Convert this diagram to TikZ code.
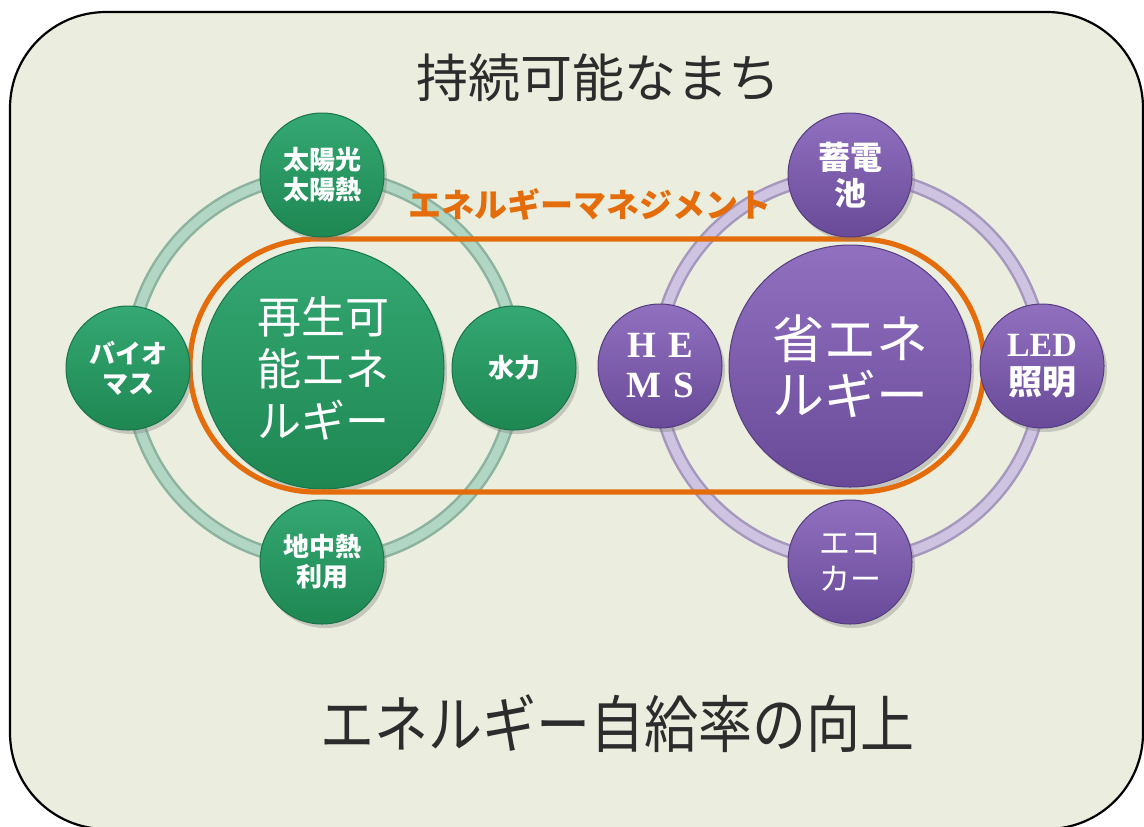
\documentclass[tikz,border=0pt]{standalone}
\usepackage{fontspec}
\newfontfamily\jp{Noto Sans CJK JP}
\setmainfont{Liberation Serif}
\usetikzlibrary{shadows}
\definecolor{bgfill}{HTML}{EBEEDE}
\definecolor{gtop}{HTML}{35A873}
\definecolor{gbot}{HTML}{1E8752}
\definecolor{gedge}{HTML}{17744A}
\definecolor{ptop}{HTML}{9170C0}
\definecolor{pbot}{HTML}{684A98}
\definecolor{pedge}{HTML}{553C80}
\definecolor{gring}{HTML}{B2D6C4}
\definecolor{gringd}{HTML}{8DB3A0}
\definecolor{pring}{HTML}{CEC3E0}
\definecolor{pringd}{HTML}{A597BE}
\definecolor{mgmt}{HTML}{E46C0A}
\definecolor{titlegray}{HTML}{2C2C2C}
\tikzset{
  frame/.style={draw=black, line width=1.1pt, fill=bgfill, rounded corners=48pt},
  gball/.style={circle, top color=gtop, bottom color=gbot, draw=gedge, line width=0.5pt,
    text=white, align=center, inner sep=0pt,
    drop shadow={opacity=0.35, shadow xshift=1.5pt, shadow yshift=-2pt}},
  pball/.style={circle, top color=ptop, bottom color=pbot, draw=pedge, line width=0.5pt,
    text=white, align=center, inner sep=0pt,
    drop shadow={opacity=0.35, shadow xshift=1.5pt, shadow yshift=-2pt}},
  bigc/.style={minimum size=121pt},
  smallc/.style={minimum size=62pt},
  gringout/.style={draw=gringd, line width=7pt},
  gringin/.style={draw=gring, line width=4.5pt},
  pringout/.style={draw=pringd, line width=7pt},
  pringin/.style={draw=pring, line width=4.5pt},
  mgmtbox/.style={draw=mgmt, line width=2.6pt, rounded corners=63pt},
}
\begin{document}
\begin{tikzpicture}[x=0.5pt,y=-0.5pt]
\useasboundingbox (0,0) rectangle (1144,826);
\fill[white] (0,0) rectangle (1144,826);
\draw[frame] (10,12) rectangle (1143,829);

% centres
\coordinate (L) at (323,368);
\coordinate (R) at (850,368);

% rings
\draw[gringout] (L) circle[radius=193];
\draw[gringin] (L) circle[radius=193];
\draw[pringout] (R) circle[radius=193];
\draw[pringin] (R) circle[radius=193];

% big circles
\node[gball, bigc, font=\jp\fontsize{22}{26}\selectfont] (renew) at (323,368) {再生可\\能エネ\\ルギー};
\node[pball, bigc, font=\jp\fontsize{26}{28}\selectfont] (save) at (850,366) {省エネ\\ルギー};

% management box
\draw[mgmtbox] (190,239) rectangle (984,492);
\node[text=mgmt, font=\jp\bfseries\fontsize{16.5}{18}\selectfont] (mgmtlabel) at (590,204) {エネルギーマネジメント};

% green satellites
\node[gball, smallc, font=\jp\bfseries\fontsize{13}{15}\selectfont] (solar) at (322,175) {太陽光\\太陽熱};
\node[gball, smallc, font=\jp\bfseries\fontsize{13}{15}\selectfont] (bio) at (128,368) {バイオ\\マス};
\node[gball, smallc, font=\jp\bfseries\fontsize{13}{15}\selectfont] (hydro) at (514,368) {水力};
\node[gball, smallc, font=\jp\bfseries\fontsize{13}{15}\selectfont] (geo) at (322,562) {地中熱\\利用};

% purple satellites
\node[pball, smallc, font=\jp\bfseries\fontsize{16}{18}\selectfont] (batt) at (850,175) {蓄電\\池};
\node[pball, smallc, font=\bfseries\fontsize{18.5}{20}\selectfont] (hems) at (660,366) {H\,\,E\\M\,\,S};
\node[pball, smallc, font=\bfseries\fontsize{17}{19}\selectfont] (led) at (1042,366) {LED\\{\jp 照明}};
\node[pball, smallc, font=\jp\fontsize{15.5}{18}\selectfont] (eco) at (850,562) {エコ\\カー};

% titles
\node[text=titlegray, font=\jp\fontsize{26}{28}\selectfont] (title) at (598,78) {持続可能なまち};
\node[text=titlegray, font=\jp\fontsize{27}{30}\selectfont, yscale=1.15] (goal) at (617,724) {エネルギー自給率の向上};
\end{tikzpicture}
\end{document}
